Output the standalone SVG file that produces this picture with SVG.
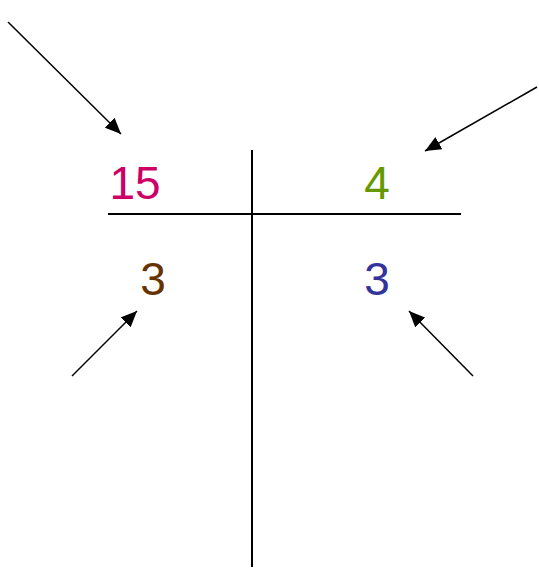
<svg xmlns="http://www.w3.org/2000/svg" width="539" height="573" viewBox="0 0 539 573">
<style>
.ln{stroke:#000;stroke-width:2;fill:none}
.ar{stroke:#000;stroke-width:1.5;fill:none;marker-end:url(#ah)}
.t{font-family:"Liberation Sans",Arial,sans-serif;font-size:46px;text-anchor:middle}
</style>
<defs>
<marker id="ah" viewBox="0 0 16 14" refX="16" refY="7" markerWidth="16" markerHeight="14" markerUnits="userSpaceOnUse" orient="auto">
<path d="M0,0 L16,7 L0,14 z" fill="#000"/>
</marker>
</defs>
<rect width="539" height="573" fill="#fff"/>
<g id="tchart">
<line class="ln" x1="252" y1="150" x2="252" y2="567"/>
<line class="ln" x1="108" y1="214" x2="461" y2="214"/>
</g>
<g id="n15"><text class="t" x="135" y="199" fill="#CC0066">15</text></g>
<g id="n4"><text class="t" x="377" y="199" fill="#669900">4</text></g>
<g id="n3a"><text class="t" x="153" y="295" fill="#663300">3</text></g>
<g id="n3b"><text class="t" x="377" y="295" fill="#333399">3</text></g>
<g id="connectors">
<line class="ar" x1="8" y1="22" x2="121" y2="134"/>
<line class="ar" x1="537" y1="87" x2="425" y2="151"/>
<line class="ar" x1="72" y1="376" x2="137" y2="311"/>
<line class="ar" x1="473" y1="376" x2="409" y2="311"/>
</g>
</svg>
